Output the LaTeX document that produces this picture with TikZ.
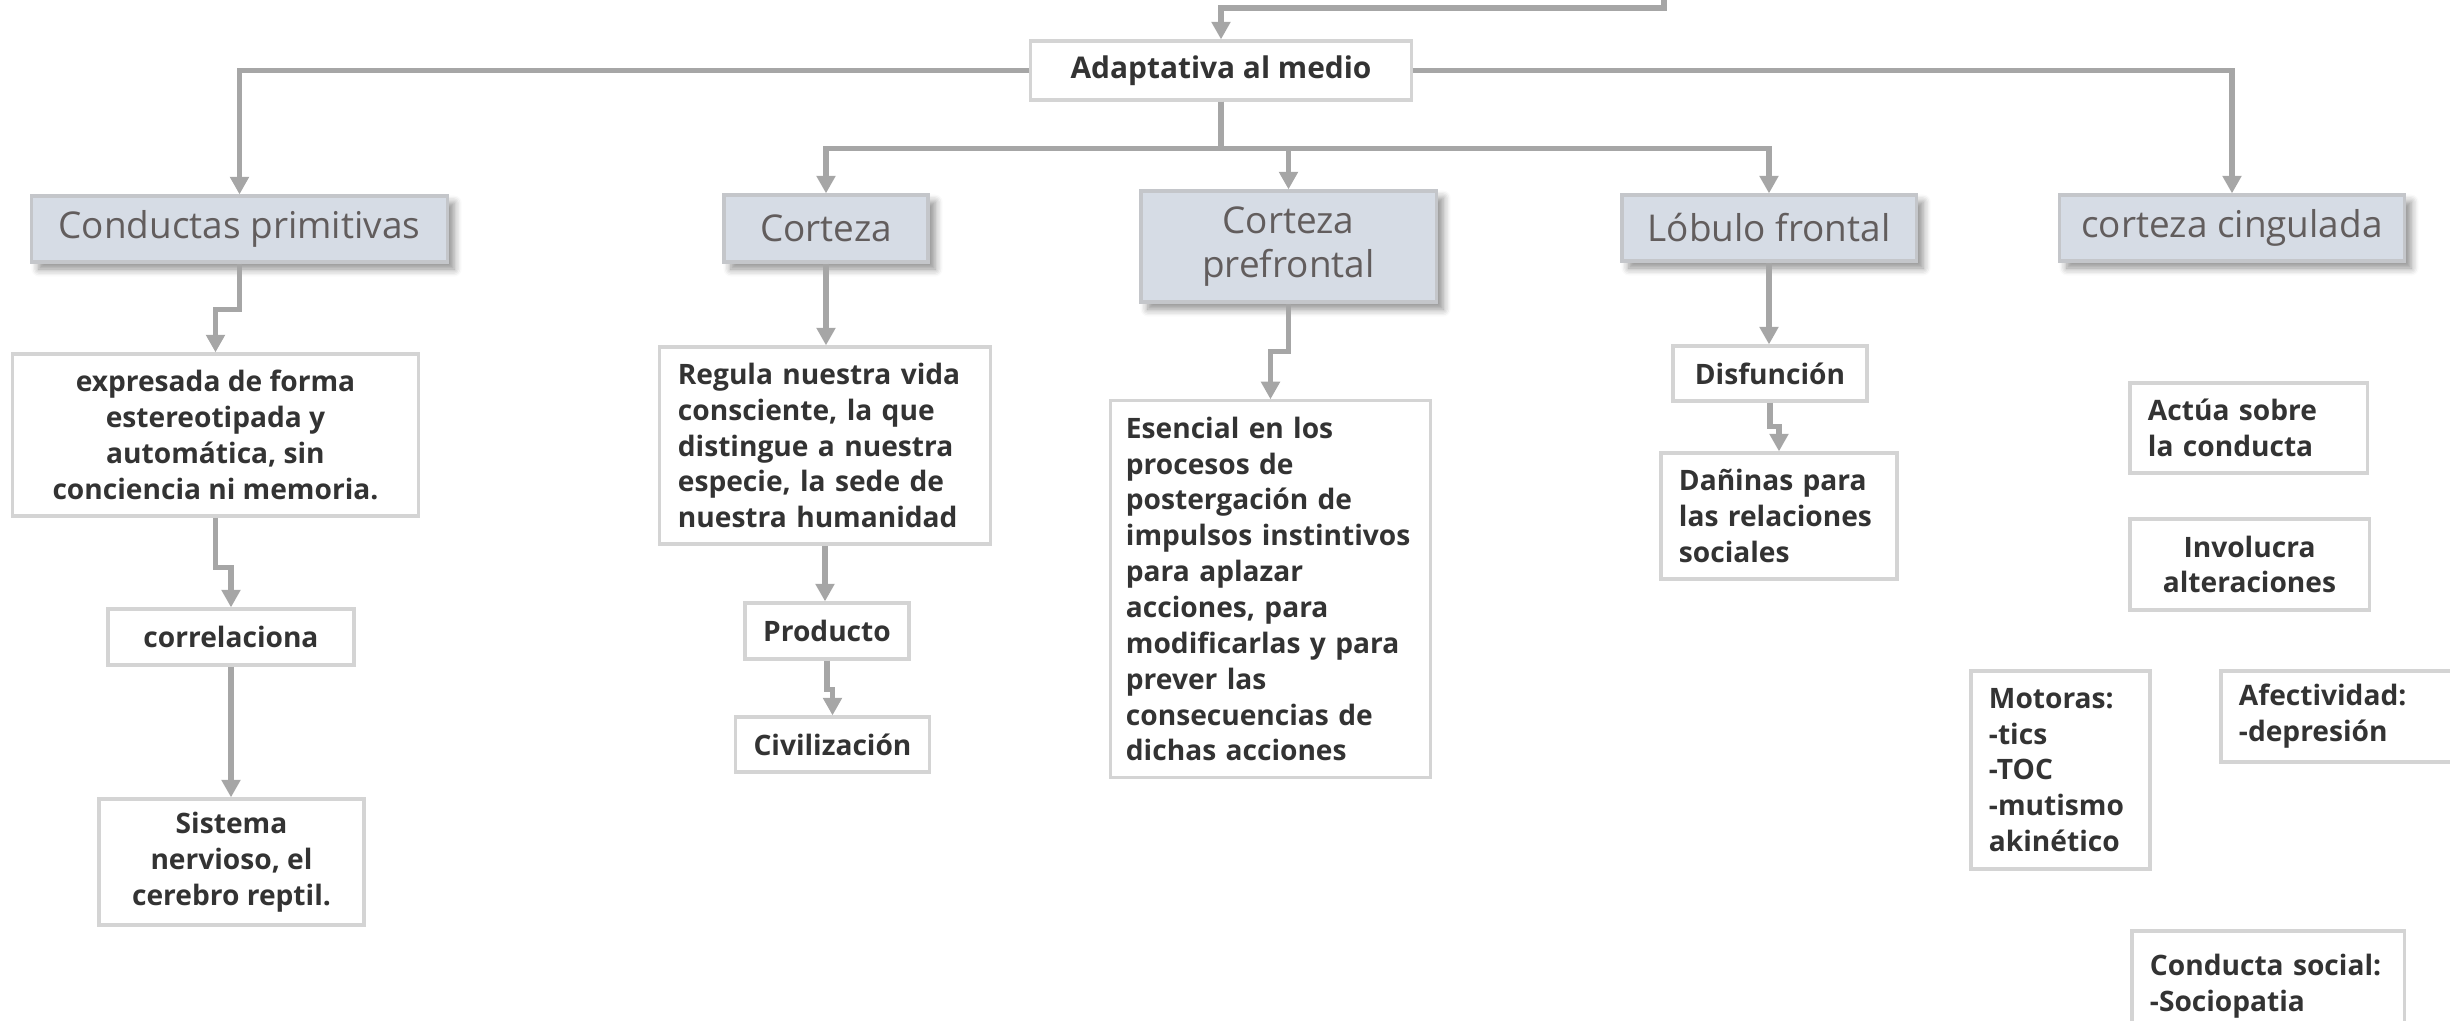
\documentclass[tikz,border=0pt]{standalone}
\usepackage{fontspec}
\setmainfont{Open Sans}
\usetikzlibrary{arrows.meta,shadows.blur}
\definecolor{linegray}{HTML}{A6A6A6}
\definecolor{boxline}{HTML}{D4D4D4}
\definecolor{headline}{HTML}{C4C6CA}
\definecolor{headfill}{HTML}{D6DCE5}
\definecolor{headtext}{HTML}{625D5D}
\definecolor{bodytext}{HTML}{333333}

\begin{document}
\begin{tikzpicture}[x=0.01cm,y=-0.01cm,
	conn/.style={draw=linegray,line width=1.6pt,-{Triangle[length=5pt,width=5.2pt]}},
	plainbox/.style={draw=boxline,line width=0.9pt,fill=white,text=bodytext,inner xsep=0.18cm,inner ysep=0pt,
		font=\fontsize{8}{10.2}\selectfont\bfseries},
	headbox/.style={draw=headline,line width=0.9pt,fill=headfill,text=headtext,align=center,inner sep=0pt,
		font=\fontsize{10.5}{12.5}\selectfont,
		blur shadow={shadow xshift=2pt,shadow yshift=-2pt,shadow blur steps=6,shadow opacity=45}}]
		\useasboundingbox (0,0) rectangle (2450,1021);
		% top level
		\node[plainbox,align=center,minimum width=3.80cm,minimum height=0.59cm,font=\fontsize{8.5}{10.2}\selectfont\bfseries] (adap) at (1221,70.5) {Adaptativa al medio};
		% second level
		\node[headbox,minimum width=4.15cm,minimum height=0.66cm] (prim) at (239.5,229) {Conductas primitivas};
		\node[headbox,minimum width=2.04cm,minimum height=0.67cm] (cort) at (826,228.5) {Corteza};
		\node[headbox,minimum width=2.95cm,minimum height=1.11cm] (pref) at (1288.5,246.5) {Corteza\\prefrontal};
		\node[headbox,minimum width=2.94cm,minimum height=0.66cm] (lobf) at (1769,228) {Lóbulo frontal};
		\node[headbox,minimum width=3.44cm,minimum height=0.66cm] (cing) at (2232,228) {corteza cingulada};
		% conductas primitivas
		\node[plainbox,align=center,minimum width=4.05cm,minimum height=1.62cm] (expr) at (215.5,435) {expresada de forma\\estereotipada y\\automática, sin\\conciencia ni memoria.};
		\node[plainbox,align=center,minimum width=2.46cm,minimum height=0.56cm] (correl) at (231,637) {correlaciona};
		\node[plainbox,align=center,minimum width=2.65cm,minimum height=1.26cm] (sist) at (231.5,862) {Sistema\\nervioso, el\\cerebro reptil.};
		% corteza
		\node[plainbox,align=left,text width=2.94cm,minimum height=1.97cm] (regula) at (825,445.5) {Regula nuestra vida\\consciente, la que\\distingue a nuestra\\especie, la sede de\\nuestra humanidad};
		\node[plainbox,align=center,minimum width=1.64cm,minimum height=0.56cm] (prod) at (827,631) {Producto};
		\node[plainbox,align=center,minimum width=1.91cm,minimum height=0.55cm] (civ) at (832.5,744.5) {Civilización};
		% corteza prefrontal
		\node[plainbox,align=left,inner xsep=0.15cm,text width=2.89cm,minimum height=3.76cm] (esen) at (1270.5,589) {Esencial en los\\procesos de\\postergación de\\\mbox{impulsos instintivos}\\para aplazar\\acciones, para\\modificarlas y para\\prever las\\consecuencias de\\dichas acciones};
		% lobulo frontal
		\node[plainbox,align=center,minimum width=1.94cm,minimum height=0.55cm] (disf) at (1770,373.5) {Disfunción};
		\node[plainbox,align=left,text width=2.00cm,minimum height=1.26cm] (danin) at (1779,516) {Dañinas para\\las relaciones\\sociales};
		% corteza cingulada
		\node[plainbox,align=left,text width=2.01cm,minimum height=0.90cm] (actua) at (2248.5,428) {Actúa sobre\\la conducta};
		\node[plainbox,align=center,minimum width=2.39cm,minimum height=0.91cm] (invol) at (2249.5,564.5) {Involucra\\alteraciones};
		\node[plainbox,align=left,text width=1.43cm,minimum height=1.98cm] (motor) at (2060.5,770) {Motoras:\\-tics\\-TOC\\-mutismo\\akinético};
		\node[plainbox,align=left,text width=2.23cm,minimum height=0.91cm] (afect) at (2350.5,716.5) {Afectividad:\\-depresión};
		\node[plainbox,align=left,text width=2.36cm,minimum height=1.10cm] (socia) at (2268,986) {Conducta social:\\-Sociopatia};
		% connectors
		\coordinate (topin) at (1664,-10);
		\draw[conn] (topin) -- ++(0,18) -| (adap.north);
		\draw[conn] (adap.west) -| (prim.north);
		\draw[conn] (adap.east) -| (cing.north);
		\draw[conn] (adap.south) -- ++(0,47) -| (cort.north);
		\draw[conn] (adap.south) -- ++(0,47) -| (pref.north);
		\draw[conn] (adap.south) -- ++(0,47) -| (lobf.north);
		\draw[conn] (prim.south) -- ++(0,46) -| (expr.north);
		\draw[conn] (expr.south) -- ++(0,50) -| (correl.north);
		\draw[conn] (correl.south) -- (correl.south |- sist.north);
		\draw[conn] (cort.south) -- (cort.south |- regula.north);
		\draw[conn] (regula.south) -- (regula.south |- prod.north);
		\draw[conn] (prod.south) -- ++(0,29) -| (civ.north);
		\draw[conn] (pref.south) -- ++(0,48) -| (esen.north);
		\draw[conn] (lobf.south) -- (lobf.south |- disf.north);
		\draw[conn] (disf.south) -- ++(0,24) -| (danin.north);
	\end{tikzpicture}
\end{document}
